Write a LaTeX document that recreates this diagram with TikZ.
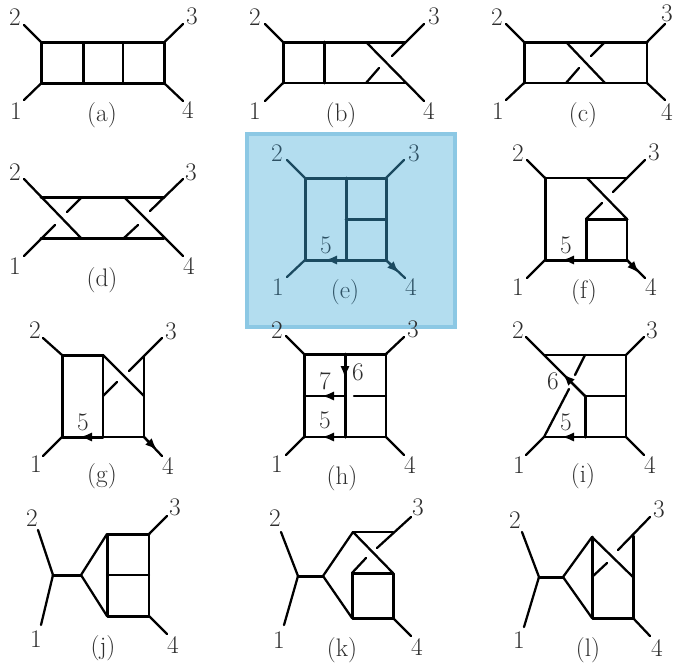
\documentclass[tikz,border=0pt]{standalone}
\usepackage{amsmath}
\usepackage{tikz}
\usetikzlibrary{arrows.meta}

\definecolor{panelfill}{HTML}{B3DDEF}
\definecolor{panelrim}{HTML}{8CC8E4}
\definecolor{panelink}{HTML}{1B4A60}
\definecolor{paneltext}{HTML}{2E5164}
\definecolor{labelgrey}{HTML}{2E2E2E}

\begin{document}
\begin{tikzpicture}[
    x=0.75pt, y=-0.75pt,
    every node/.style={font=\fontsize{19}{21}\selectfont, text=labelgrey, inner sep=0pt},
    prop/.style={line width=1.7pt, line cap=round},
    heavy/.style={line width=2.25pt, line cap=round, line join=round},
    flow/.style={line width=1.7pt, -{Latex[length=9pt,width=7pt]}},
    tinted/.style={text=paneltext}
  ]
  \useasboundingbox (0,0) rectangle (674,664);

  % row 1
  \coordinate (a1) at (24,100); \coordinate (a2) at (24,25); \coordinate (a3) at (183,24); \coordinate (a4) at (183,101);
  \coordinate (aSW) at (41.5,83); \coordinate (aNW) at (41.5,42.5); \coordinate (aNE) at (164,42.5); \coordinate (aSE) at (164,83);
  \coordinate (aT1) at (83,42.5); \coordinate (aT2) at (123,42.5); \coordinate (aB1) at (83,83); \coordinate (aB2) at (123,83);
  \draw[heavy] (aSE) -- (aSW) -- (aNW) -- (aNE) -- cycle;
  \draw[heavy] (aT1) -- (aB1);
  \draw[prop] (aT2) -- (aB2);
  \draw[prop] (a1) -- (aSW) (a2) -- (aNW) (a3) -- (aNE) (a4) -- (aSE);
  \node (al1) at (16,111) {1}; \node (al2) at (15,17) {2}; \node (al3) at (192,16) {3}; \node (al4) at (188,110) {4};
  \node (acap) at (102,115) {(a)};

  \coordinate (b1) at (265,101); \coordinate (b2) at (265,24); \coordinate (b3) at (424,24); \coordinate (b4) at (424,101);
  \coordinate (bSW) at (283,83); \coordinate (bNW) at (283,42); \coordinate (bNE) at (405,42); \coordinate (bSE) at (405,83);
  \coordinate (bT1) at (324,42); \coordinate (bT2) at (366,42); \coordinate (bB1) at (324,83); \coordinate (bB2) at (366,83);
  \coordinate (bgap1) at (379,68); \coordinate (bgap2) at (392,56);
  \draw[heavy] (bNE) -- (bNW) -- (bSW);
  \draw[prop] (bSW) -- (bSE);
  \draw[heavy] (bT1) -- (bB1);
  \draw[prop] (bT2) -- (b4) (b3) -- (bgap2) (bgap1) -- (bB2);
  \draw[prop] (b1) -- (bSW) (b2) -- (bNW);
  \node (bl1) at (255,111) {1}; \node (bl2) at (255,17) {2}; \node (bl3) at (434,16) {3}; \node (bl4) at (429,111) {4};
  \node (bcap) at (341,115) {(b)};

  \coordinate (c1) at (506,100); \coordinate (c2) at (506,24); \coordinate (c3) at (665,24); \coordinate (c4) at (665,100);
  \coordinate (cSW) at (524,83); \coordinate (cNW) at (524,42); \coordinate (cNE) at (647,42); \coordinate (cSE) at (647,83);
  \coordinate (cT1) at (566,42); \coordinate (cT2) at (605,42); \coordinate (cB1) at (566,83); \coordinate (cB2) at (605,83);
  \coordinate (cgap1) at (579,68); \coordinate (cgap2) at (591,56);
  \draw[heavy] (cNE) -- (cNW) -- (cSW);
  \draw[prop] (cNE) -- (cSE) -- (cSW);
  \draw[prop] (cT1) -- (cB2) (cT2) -- (cgap2) (cgap1) -- (cB1);
  \draw[prop] (c1) -- (cSW) (c2) -- (cNW) (c3) -- (cNE) (c4) -- (cSE);
  \node (cl1) at (498,111) {1}; \node (cl2) at (497,17) {2}; \node (cl3) at (667,13) {3}; \node (cl4) at (667,112) {4};
  \node (ccap) at (583,115) {(c)};

  % row 2
  \coordinate (d1) at (24,256); \coordinate (d2) at (24,179); \coordinate (d3) at (183,179); \coordinate (d4) at (183,256);
  \coordinate (dSW) at (41,238); \coordinate (dNW) at (41,197); \coordinate (dNE) at (164,197); \coordinate (dSE) at (164,238);
  \coordinate (dT1) at (82,197); \coordinate (dT2) at (124,197); \coordinate (dB1) at (81,238); \coordinate (dB2) at (124,238);
  \coordinate (dgap1) at (55,225); \coordinate (dgap2) at (67,212); \coordinate (dgap3) at (138,225); \coordinate (dgap4) at (150,211);
  \draw[heavy] (dNW) -- (dNE) (dSW) -- (dSE);
  \draw[prop] (d2) -- (dB1) (d1) -- (dgap1) (dgap2) -- (dT1);
  \draw[prop] (dT2) -- (d4) (d3) -- (dgap4) (dgap3) -- (dB2);
  \node (dl1) at (15,266) {1}; \node (dl2) at (15,172) {2}; \node (dl3) at (191,172) {3}; \node (dl4) at (189,266) {4};
  \node (dcap) at (102,280) {(d)};

  \node[draw=panelrim, line width=3pt, fill=panelfill, minimum width=156pt, minimum height=144.5pt, anchor=north west] (epanel) at (245,132) {};
  \begin{scope}[color=panelink]
    \coordinate (e1) at (287,277); \coordinate (e2) at (287,160); \coordinate (e3) at (404,160); \coordinate (e4) at (405,278);
    \coordinate (eSW) at (305,260); \coordinate (eNW) at (305,178); \coordinate (eNE) at (386,178); \coordinate (eSE) at (386,260);
    \coordinate (eT) at (346,178); \coordinate (eB) at (346,260); \coordinate (eM) at (346,219); \coordinate (eR) at (386,219);
    \coordinate (e5) at (325,260); \coordinate (e6) at (399,273);
    \draw[heavy] (eNE) -- (eNW) -- (eSW) -- (eSE) -- cycle;
    \draw[heavy] (eT) -- (eB) (eM) -- (eR);
    \draw[prop] (e1) -- (eSW) (e2) -- (eNW) (e3) -- (eNE) (e4) -- (eSE);
    \draw[flow] (eB) -- (e5);
    \draw[flow] (eSE) -- (e6);
  \end{scope}
  \node[tinted] (el1) at (278,287) {1}; \node[tinted] (el2) at (277,153) {2}; \node[tinted] (el3) at (414,153) {3}; \node[tinted] (el4) at (411,287) {4};
  \node[tinted] (el5) at (326,245) {5};
  \node[tinted] (ecap) at (345,292) {(e)};

  \coordinate (f1) at (527,278); \coordinate (f2) at (527,160); \coordinate (f3) at (645,160); \coordinate (f4) at (645,278);
  \coordinate (fSW) at (545,260); \coordinate (fNW) at (545,178); \coordinate (fNE) at (626,178); \coordinate (fSE) at (627,260);
  \coordinate (fT) at (587,178); \coordinate (fBL) at (586,219); \coordinate (fBR) at (627,219); \coordinate (fB) at (586,260);
  \coordinate (fgap1) at (602,203); \coordinate (fgap2) at (613,192); \coordinate (f5) at (562,260); \coordinate (f6) at (639,273);
  \draw[heavy] (fNW) -- (fSW) -- (fSE);
  \draw[prop] (fNW) -- (fNE);
  \draw[heavy] (fB) -- (fBL) -- (fBR);
  \draw[prop] (fBR) -- (fSE);
  \draw[prop] (fT) -- (fBR) (f3) -- (fgap2) (fgap1) -- (fBL);
  \draw[prop] (f1) -- (fSW) (f2) -- (fNW) (f4) -- (fSE);
  \draw[flow] (fB) -- (f5);
  \draw[flow] (fSE) -- (f6);
  \node (fl1) at (518,287) {1}; \node (fl2) at (518,153) {2}; \node (fl3) at (654,152) {3}; \node (fl4) at (651,287) {4};
  \node (fl5) at (566,245) {5};
  \node (fcap) at (584,292) {(f)};

  % row 3
  \coordinate (g1) at (43,456); \coordinate (g2) at (43,338); \coordinate (g3) at (162,338); \coordinate (g4) at (162,456);
  \coordinate (gSW) at (62,437); \coordinate (gNW) at (62,355); \coordinate (gT) at (103,355); \coordinate (gB) at (103,437);
  \coordinate (gM) at (103,396); \coordinate (gNE) at (144,356); \coordinate (gR) at (144,396); \coordinate (gSE) at (144,437);
  \coordinate (ggap1) at (117,382); \coordinate (ggap2) at (129,371); \coordinate (g5) at (80,437); \coordinate (g6) at (157,450);
  \draw[heavy] (gB) -- (gSW) -- (gNW) -- (gT);
  \draw[prop] (gT) -- (gB) (gNE) -- (gSE) -- (gB);
  \draw[prop] (gT) -- (gR) (g3) -- (ggap2) (ggap1) -- (gM);
  \draw[prop] (g1) -- (gSW) (g2) -- (gNW) (g4) -- (gSE);
  \draw[flow] (gB) -- (g5);
  \draw[flow] (gSE) -- (g6);
  \node (gl1) at (36,464) {1}; \node (gl2) at (35,330) {2}; \node (gl3) at (171,331) {3}; \node (gl4) at (168,466) {4};
  \node (gl5) at (83,422) {5};
  \node (gcap) at (102,476) {(g)};

  \coordinate (h1) at (286,455); \coordinate (h2) at (286,336); \coordinate (h3) at (404,337); \coordinate (h4) at (404,455);
  \coordinate (hSW) at (304,437); \coordinate (hNW) at (304,354); \coordinate (hNE) at (386,354); \coordinate (hSE) at (386,437);
  \coordinate (hT) at (345,354); \coordinate (hB) at (345,437); \coordinate (hM) at (345,396); \coordinate (hML) at (304,396);
  \coordinate (hgap) at (354,396); \coordinate (hR) at (386,396);
  \coordinate (h5) at (322,437); \coordinate (h6) at (345,378); \coordinate (h7) at (322,396);
  \draw[heavy] (hNE) -- (hNW) -- (hSW);
  \draw[heavy] (hT) -- (hB);
  \draw[prop] (hNE) -- (hSE) -- (hSW);
  \draw[prop] (hM) -- (hML) (hgap) -- (hR);
  \draw[prop] (h1) -- (hSW) (h2) -- (hNW) (h3) -- (hNE) (h4) -- (hSE);
  \draw[flow] (hB) -- (h5);
  \draw[flow] (hM) -- (h7);
  \draw[flow] (hT) -- (h6);
  \node (hl1) at (277,464) {1}; \node (hl2) at (277,330) {2}; \node (hl3) at (413,329) {3}; \node (hl4) at (410,465) {4};
  \node (hl5) at (325,420) {5}; \node (hl6) at (358,372) {6}; \node (hl7) at (325,381) {7};
  \node (hcap) at (342,478) {(h)};

  \coordinate (i1) at (526,455); \coordinate (i2) at (526,337); \coordinate (i3) at (644,337); \coordinate (i4) at (644,455);
  \coordinate (iSW) at (544,437); \coordinate (iNW) at (544,355); \coordinate (iNE) at (626,355); \coordinate (iSE) at (626,437);
  \coordinate (iT) at (585,355); \coordinate (iM) at (585,396); \coordinate (iR) at (626,396); \coordinate (iB) at (585,437);
  \coordinate (igap1) at (569,389); \coordinate (igap2) at (575,375);
  \coordinate (i5) at (562,437); \coordinate (i6) at (563,374);
  \draw[prop] (iNW) -- (iNE) -- (iSE) -- (iSW);
  \draw[prop] (iM) -- (iR);
  \draw[heavy] (iM) -- (iB);
  \draw[prop] (i2) -- (iM) (iSW) -- (igap1) (igap2) -- (iT);
  \draw[prop] (i1) -- (iSW) (i3) -- (iNE) (i4) -- (iSE);
  \draw[flow] (iB) -- (i5);
  \draw[flow] (iM) -- (i6);
  \node (il1) at (519,465) {1}; \node (il2) at (518,330) {2}; \node (il3) at (652,330) {3}; \node (il4) at (650,465) {4};
  \node (il5) at (566,422) {5}; \node (il6) at (553,381) {6};
  \node (icap) at (583,476) {(i)};

  % row 4
  \coordinate (j1) at (41,625); \coordinate (j2) at (38,530); \coordinate (j3) at (167,516); \coordinate (j4) at (167,634);
  \coordinate (jL) at (53,575); \coordinate (jR) at (81,575); \coordinate (jNW) at (107,534); \coordinate (jSW) at (107,616);
  \coordinate (jNE) at (149,534); \coordinate (jSE) at (149,616); \coordinate (jM) at (107,575); \coordinate (jMR) at (149,575);
  \draw[heavy] (jL) -- (jR);
  \draw[prop] (j1) -- (jL) -- (j2);
  \draw[prop] (jNW) -- (jR) -- (jSW);
  \draw[heavy] (jNE) -- (jNW) -- (jSW) -- (jSE);
  \draw[prop] (jNE) -- (jSE);
  \draw[prop] (jM) -- (jMR);
  \draw[prop] (j3) -- (jNE) (j4) -- (jSE);
  \node (jl1) at (36,639) {1}; \node (jl2) at (32,518) {2}; \node (jl3) at (175,507) {3}; \node (jl4) at (173,645) {4};
  \node (jcap) at (103,648) {(j)};

  \coordinate (k1) at (284,625); \coordinate (k2) at (281,532); \coordinate (k3) at (411,517); \coordinate (k4) at (411,636);
  \coordinate (kL) at (298,576); \coordinate (kR) at (323,576); \coordinate (kA) at (353,532); \coordinate (kC) at (393,532);
  \coordinate (kBL) at (352,573); \coordinate (kBR) at (393,573); \coordinate (kSW) at (352,618); \coordinate (kSE) at (393,618);
  \coordinate (kgap1) at (366,558); \coordinate (kgap2) at (377,548);
  \draw[heavy] (kL) -- (kR);
  \draw[prop] (k1) -- (kL) -- (k2);
  \draw[prop] (kA) -- (kR) -- (kSW);
  \draw[prop] (kA) -- (kC);
  \draw[heavy] (kBR) -- (kBL) -- (kSW) -- (kSE) -- cycle;
  \draw[prop] (kA) -- (kBR) (k3) -- (kgap2) (kgap1) -- (kBL);
  \draw[prop] (k4) -- (kSE);
  \node (kl1) at (279,640) {1}; \node (kl2) at (275,518) {2}; \node (kl3) at (418,507) {3}; \node (kl4) at (417,647) {4};
  \node (kcap) at (342,650) {(k)};

  \coordinate (l1) at (524,627); \coordinate (l2) at (522,532); \coordinate (l3) at (650,517); \coordinate (l4) at (650,636);
  \coordinate (lL) at (539,577); \coordinate (lR) at (563,577); \coordinate (lNW) at (592,537); \coordinate (lSW) at (592,618);
  \coordinate (lNE) at (633,536); \coordinate (lSE) at (633,618); \coordinate (lM) at (592,577); \coordinate (lMR) at (633,577);
  \coordinate (lgap1) at (607,563); \coordinate (lgap2) at (618,550);
  \draw[heavy] (lL) -- (lR);
  \draw[prop] (l1) -- (lL) -- (l2);
  \draw[prop] (lNW) -- (lR) -- (lSW);
  \draw[heavy] (lNW) -- (lSW) -- (lSE) -- (lNE);
  \draw[prop] (lNW) -- (lMR) (l3) -- (lgap2) (lgap1) -- (lM);
  \draw[prop] (l4) -- (lSE);
  \node (ll1) at (519,640) {1}; \node (ll2) at (515,520) {2}; \node (ll3) at (659,509) {3}; \node (ll4) at (657,648) {4};
  \node (lcap) at (588,650) {(l)};
\end{tikzpicture}
\end{document}
